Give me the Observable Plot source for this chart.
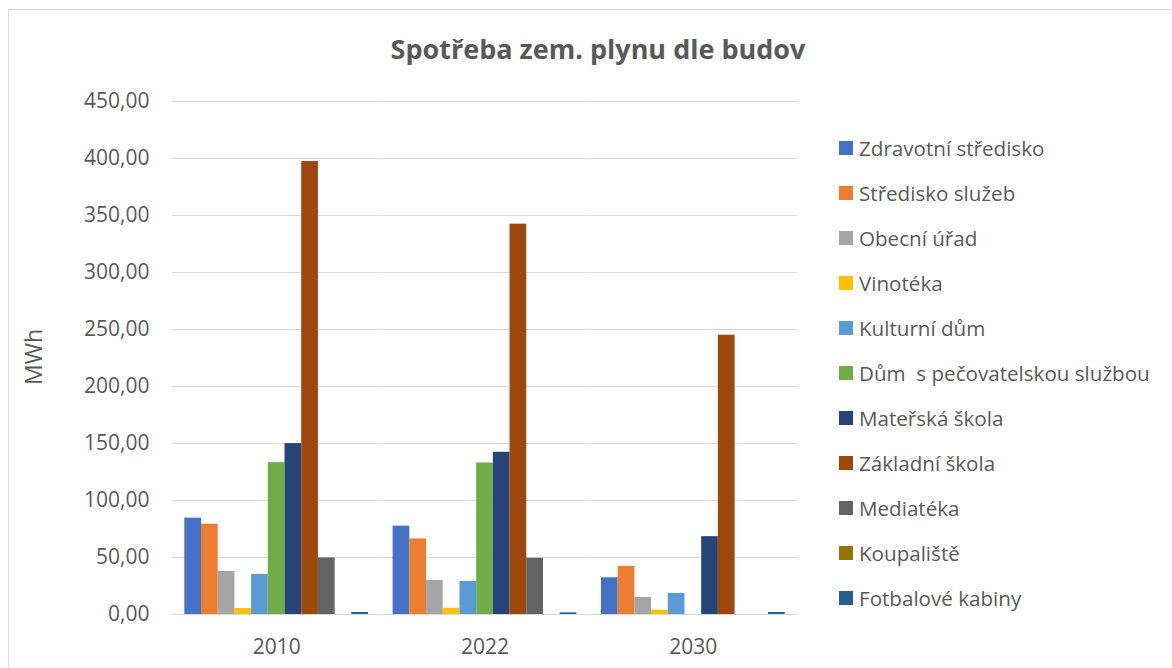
<!DOCTYPE html>
<html>
<head>
<meta charset="utf-8">
<script src="https://cdn.jsdelivr.net/npm/d3@7"></script>
<script src="https://cdn.jsdelivr.net/npm/@observablehq/plot@0.6"></script>
<style>
  html, body { margin: 0; padding: 0; background: #fff; width: 1172px; height: 668px; overflow: hidden; font-family: "Open Sans", sans-serif; color: #595959; }
  #frame { position: absolute; left: 8px; top: 9px; width: 1200px; height: 700px; border: 1px solid #d9d9d9; box-sizing: border-box; }
  #chart { position: absolute; left: 0; top: 0; }
  #title { position: absolute; left: 598px; top: 33px; transform: translateX(-50%); font-size: 27px; font-weight: 700; white-space: nowrap; color: #595959; line-height: 1.2; }
  #ylabel { position: absolute; left: 33px; top: 357px; transform: translate(-50%, -50%) rotate(-90deg); font-size: 23px; white-space: nowrap; }
  #legend { position: absolute; left: 839px; top: 125px; }
  .item { display: flex; align-items: center; height: 45px; font-size: 20.6px; white-space: nowrap; }
  .sw { width: 14px; height: 14px; margin-right: 6px; flex: none; }
</style>
</head>
<body>
<div id="frame"></div>
<div id="chart"></div>
<div id="title">Spotřeba zem. plynu dle budov</div>
<div id="ylabel">MWh</div>
<div id="legend"></div>
<script>
const years = ["2010", "2022", "2030"];
const buildings = [
  "Zdravotní středisko",
  "Středisko služeb",
  "Obecní úřad",
  "Vinotéka",
  "Kulturní dům",
  "Dům  s pečovatelskou službou",
  "Mateřská škola",
  "Základní škola",
  "Mediatéka",
  "Koupaliště",
  "Fotbalové kabiny"
];
const colors = ["#4472C4", "#ED7D31", "#A5A5A5", "#FFC000", "#5B9BD5", "#70AD47", "#264478", "#9E480E", "#636363", "#997300", "#255E91"];
const values2010 = [84.5, 79.2, 37.8, 5.3, 35.2, 133.2, 149.9, 397.3, 49.6, null, 1.8];
const values2022 = [77.5, 66.3, 29.9, 5.5, 29.0, 132.9, 142.3, 342.4, 49.3, null, 1.4];
const values2030 = [32.2, 42.2, 14.9, 3.8, 18.5, null, 68.3, 245.0, null, null, 1.8];
const yTicks = [0, 50, 100, 150, 200, 250, 300, 350, 400, 450];

const series = [values2010, values2022, values2030];
const data = [];
years.forEach((yr, i) => buildings.forEach((b, j) => {
  const v = series[i][j];
  if (v != null) data.push({year: yr, building: b, value: v});
}));

const fmt = d => d.toFixed(2).replace(".", ",");

const chart = Plot.plot({
  width: 820,
  height: 668,
  marginLeft: 172,
  marginRight: 23,
  marginTop: 101,
  marginBottom: 54,
  style: {fontFamily: "'Open Sans', sans-serif", color: "#595959", background: "transparent"},
  fx: {domain: years, paddingInner: 0.118, paddingOuter: 0.059, round: false, label: null},
  x: {domain: buildings, padding: 0, round: false, axis: null},
  y: {domain: [0, 450], axis: null},
  color: {domain: buildings, range: colors},
  marks: [
    Plot.ruleY(yTicks, {stroke: "#d9d9d9", strokeWidth: 1, insetLeft: -12.3, insetRight: -12.3}),
    Plot.barY(data, {fx: "year", x: "building", y: "value", fill: "building"}),
    Plot.axisY(yTicks, {tickFormat: fmt, tickSize: 0, tickPadding: 35.3, fontSize: 21, fill: "#595959", label: null}),
    Plot.axisFx({anchor: "bottom", tickSize: 0, tickPadding: 25, fontSize: 21, fill: "#595959", label: null})
  ]
});
document.getElementById("chart").appendChild(chart);

const legend = document.getElementById("legend");
buildings.forEach((b, i) => {
  const row = document.createElement("div");
  row.className = "item";
  const sw = document.createElement("span");
  sw.className = "sw";
  sw.style.background = colors[i];
  const t = document.createElement("span");
  t.textContent = b;
  t.style.whiteSpace = "pre";
  row.appendChild(sw);
  row.appendChild(t);
  legend.appendChild(row);
});
</script>
</body>
</html>
